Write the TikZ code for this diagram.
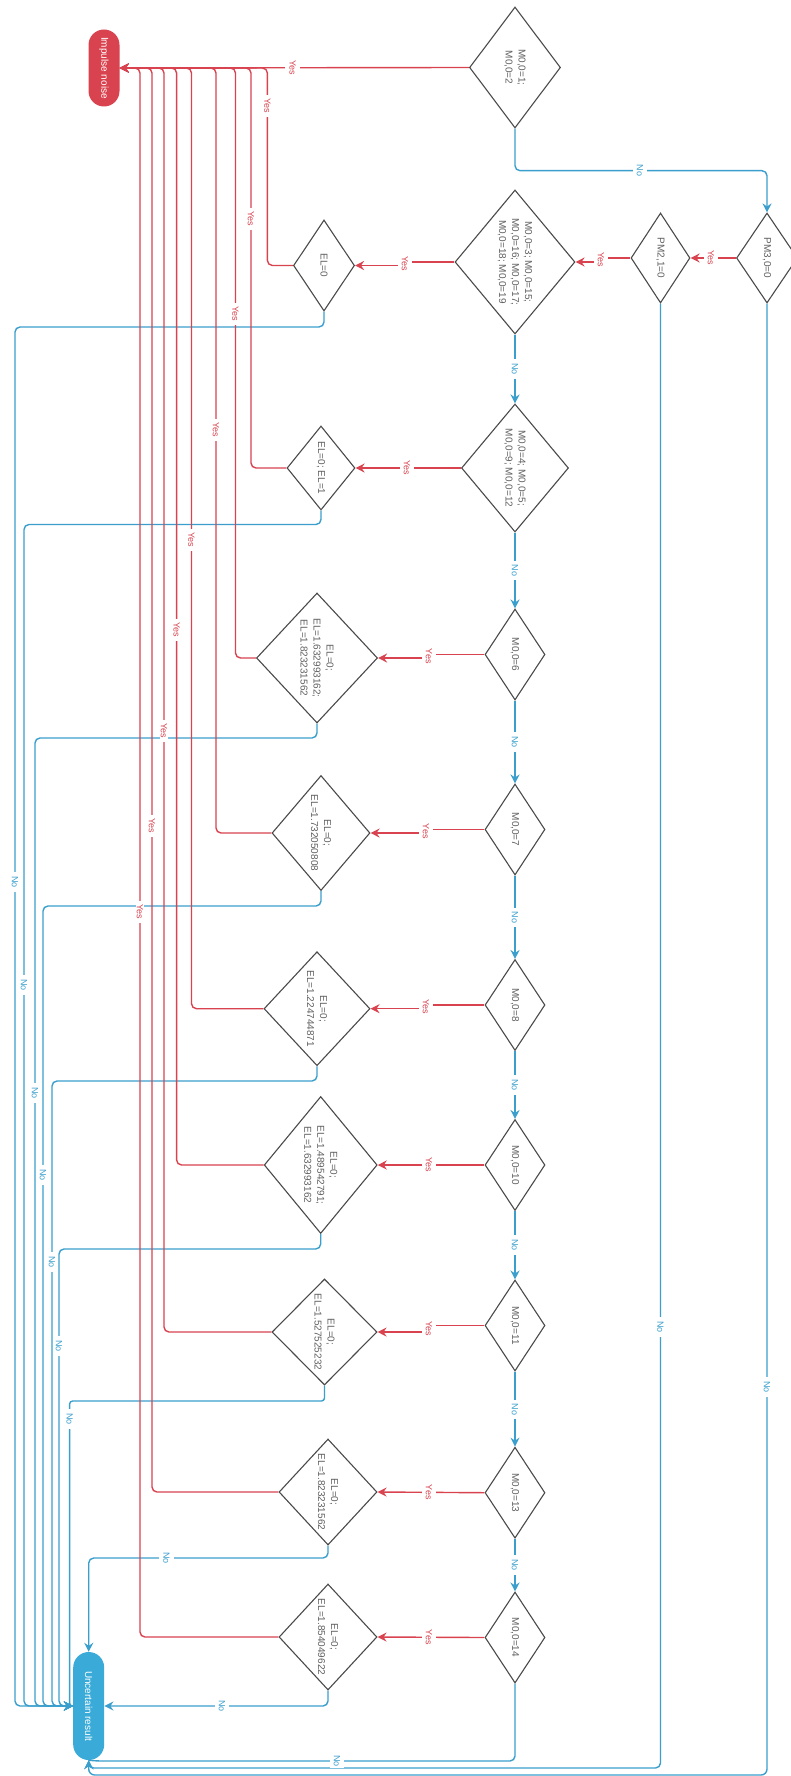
\documentclass[tikz,border=0pt]{standalone}
\usepackage{fontspec}
\setmainfont{Liberation Sans}
\usetikzlibrary{shapes.geometric,arrows.meta}
\definecolor{rd}{HTML}{D8434F}
\definecolor{bl}{HTML}{3A9FCC}
\definecolor{blfill}{HTML}{3AABD8}
\definecolor{edgec}{HTML}{4A4A4A}
\definecolor{txt}{HTML}{606060}
\tikzset{
  dia/.style={diamond, draw=edgec, line width=1.1pt, fill=white, inner sep=0pt},
  dtext/.style={rotate=-90, align=center, text=txt, font=\fontsize{10}{13}\selectfont, inner sep=0pt},
  term/.style={rectangle, rounded corners=15.5pt, minimum width=31pt, inner sep=0pt},
  ptext/.style={rotate=-90, text=white, font=\fontsize{10}{12}\selectfont, inner sep=0pt},
  tip/.style={-{Stealth[length=9pt,width=9pt,inset=3pt]}},
  yesln/.style={draw=rd, line width=1.4pt, tip},
  noln/.style={draw=bl, line width=1.4pt, tip},
  lab/.style={rotate=-90, fill=white, font=\fontsize{9}{10}\selectfont},
  onv/.style={inner xsep=4pt, inner ysep=1pt},
  onh/.style={inner xsep=1pt, inner ysep=4pt},
  ylab/.style={lab, text=rd, onh},
  nlab/.style={lab, text=bl, onh},
  yvlab/.style={lab, text=rd, onv},
  nvlab/.style={lab, text=bl, onv}
}
\begin{document}
\begin{tikzpicture}[x=1pt,y=-1pt]
\useasboundingbox (0,0) rectangle (791,1776);
\fill[white] (0,0) rectangle (791,1776);
\clip (0,0) rectangle (791,1776);

% terminals
\node[term, fill=rd, minimum height=77pt, label={[ptext]center:{Impulse noise}}] (Imp) at (104,68) {};
\node[term, fill=blfill, minimum height=108pt, label={[ptext]center:{Uncertain result}}] (Unc) at (88.7,1706) {};

% main column decisions
\node[dia, minimum width=91pt, minimum height=121pt, label={[dtext]center:{M0,0=1;\\M0,0=2}}] (D1) at (515,67.5) {};
\node[dia, minimum width=61pt, minimum height=90pt, label={[dtext]center:{PM3,0=0}}] (PM3) at (767,258) {};
\node[dia, minimum width=59pt, minimum height=90pt, label={[dtext]center:{PM2,1=0}}] (PM2) at (660.5,258) {};
\node[dia, minimum width=120pt, minimum height=144pt, label={[dtext]center:{M0,0=3; M0,0=15;\\M0,0=16; M0,0=17;\\M0,0=18; M0,0=19}}] (D3) at (515,262) {};
\node[dia, minimum width=107pt, minimum height=128pt, label={[dtext]center:{M0,0=4; M0,0=5;\\M0,0=9; M0,0=12}}] (D4) at (515,468) {};
\node[dia, minimum width=60pt, minimum height=91pt, label={[dtext]center:{M0,0=6}}] (D5) at (515,654.5) {};
\node[dia, minimum width=60pt, minimum height=91pt, label={[dtext]center:{M0,0=7}}] (D6) at (515,829.5) {};
\node[dia, minimum width=60pt, minimum height=91pt, label={[dtext]center:{M0,0=8}}] (D7) at (515,1005) {};
\node[dia, minimum width=60pt, minimum height=91pt, label={[dtext]center:{M0,0=10}}] (D8) at (515,1165) {};
\node[dia, minimum width=60pt, minimum height=91pt, label={[dtext]center:{M0,0=11}}] (D9) at (515,1325.5) {};
\node[dia, minimum width=60pt, minimum height=91pt, label={[dtext]center:{M0,0=13}}] (D10) at (515,1492.7) {};
\node[dia, minimum width=60pt, minimum height=91pt, label={[dtext]center:{M0,0=14}}] (D11) at (515,1637.5) {};

% EL decisions
\node[dia, minimum width=61pt, minimum height=91pt, label={[dtext]center:{EL=0}}] (E1) at (324,265.5) {};
\node[dia, minimum width=68pt, minimum height=84pt, label={[dtext]center:{EL=0; EL=1}}] (E2) at (321,468) {};
\node[dia, minimum width=121pt, minimum height=130pt, label={[dtext]center:{EL=0;\\EL=1.632993162;\\EL=1.823231562}}] (E3) at (317,658) {};
\node[dia, minimum width=98pt, minimum height=115pt, label={[dtext]center:{EL=0;\\EL=1.732050808}}] (E4) at (321,833) {};
\node[dia, minimum width=106pt, minimum height=114pt, label={[dtext]center:{EL=0;\\EL=1.224744871}}] (E5) at (317,1008.7) {};
\node[dia, minimum width=113pt, minimum height=137pt, label={[dtext]center:{EL=0;\\EL=1.489542791;\\EL=1.632993162}}] (E6) at (320.7,1165) {};
\node[dia, minimum width=105pt, minimum height=106pt, label={[dtext]center:{EL=0;\\EL=1.527525232}}] (E7) at (324.5,1332) {};
\node[dia, minimum width=98pt, minimum height=106pt, label={[dtext]center:{EL=0;\\EL=1.823231562}}] (E8) at (328,1492) {};
\node[dia, minimum width=98pt, minimum height=106pt, label={[dtext]center:{EL=0;\\EL=1.854049622}}] (E9) at (328,1637) {};

% ---------- blue "No" connectors ----------
\draw[noln, rounded corners=5pt] (D1.south) -- (515,170.7) -- (767,170.7) -- (PM3.north);
\draw[noln] (D3.south) -- (D4.north);
\draw[noln] (D4.south) -- (D5.north);
\draw[noln] (D5.south) -- (D6.north);
\draw[noln] (D6.south) -- (D7.north);
\draw[noln] (D7.south) -- (D8.north);
\draw[noln] (D8.south) -- (D9.north);
\draw[noln] (D9.south) -- (D10.north);
\draw[noln] (D10.south) -- (D11.north);

\draw[noln, rounded corners=5pt] (E1.south) |- (15,327) -- (15,1706) -- (Unc.west);
\draw[noln, rounded corners=5pt] (E2.south) |- (24,524.5) -- (24,1706) -- (Unc.west);
\draw[noln, rounded corners=5pt] (E3.south) |- (35,738) -- (35,1706) -- (Unc.west);
\draw[noln, rounded corners=5pt] (E4.south) |- (43,906) -- (43,1706) -- (Unc.west);
\draw[noln, rounded corners=5pt] (E5.south) |- (52,1081) -- (52,1706) -- (Unc.west);
\draw[noln, rounded corners=5pt] (E6.south) |- (59,1249) -- (59,1706) -- (Unc.west);
\draw[noln, rounded corners=3pt] (E7.south) |- (69.6,1401) -- (69.6,1706) -- (Unc.west);
\draw[noln, rounded corners=5pt] (E8.south) |- (88.7,1558) -- (Unc.north);
\draw[noln, rounded corners=5pt] (E9.south) |- (Unc.east);

\draw[draw=bl, line width=1.4pt, rounded corners=5pt] (D11.south) |- (97,1761) -- (Unc.south);
\draw[noln, rounded corners=5pt] (PM2.south) |- (88.7,1768) -- (Unc.south);
\draw[noln, rounded corners=6pt] (PM3.south) |- (88.7,1775) -- (Unc.south);

% ---------- red "Yes" connectors ----------
\draw[yesln] (D1.west) -- (Imp.east);
\draw[yesln] (PM3.west) -- (PM2.east);
\draw[yesln] (PM2.west) -- (601,258) -- (601,262) -- (D3.east);
\draw[yesln] (D3.west) -- (405,262) -- (405,265.5) -- (E1.east);
\draw[yesln] (D4.west) -- (E2.east);
\draw[yesln] (D5.west) -- (429,654.5) -- (429,658) -- (E3.east);
\draw[yesln] (D6.west) -- (426,829.5) -- (426,833) -- (E4.east);
\draw[yesln] (D7.west) -- (426,1005) -- (426,1008.7) -- (E5.east);
\draw[yesln] (D8.west) -- (E6.east);
\draw[yesln] (D9.west) -- (429,1325.5) -- (429,1332) -- (E7.east);
\draw[yesln] (D10.west) -- (E8.east);
\draw[yesln] (D11.west) -- (E9.east);

\draw[yesln, rounded corners=5pt] (E1.west) -| (267.4,68) -- (Imp.east);
\draw[yesln, rounded corners=5pt] (E2.west) -| (251,68) -- (Imp.east);
\draw[yesln, rounded corners=5pt] (E3.west) -| (235.5,68) -- (Imp.east);
\draw[yesln, rounded corners=5pt] (E4.west) -| (216,68) -- (Imp.east);
\draw[yesln, rounded corners=5pt] (E5.west) -| (191.5,68) -- (Imp.east);
\draw[yesln, rounded corners=5pt] (E6.west) -| (176.6,68) -- (Imp.east);
\draw[yesln, rounded corners=5pt] (E7.west) -| (164,68) -- (Imp.east);
\draw[yesln, rounded corners=5pt] (E8.west) -| (152,68) -- (Imp.east);
\draw[yesln, rounded corners=5pt] (E9.west) -| (140,68) -- (Imp.east);

% ---------- labels ----------
\node[ylab] (y1) at (292.6,68) {Yes};
\node[ylab] (y2) at (711,258) {Yes};
\node[ylab] (y3) at (601,260) {Yes};
\node[ylab] (y4) at (405,263.7) {Yes};
\node[ylab] (y5) at (407,468) {Yes};
\node[ylab] (y6) at (429,656.3) {Yes};
\node[ylab] (y7) at (426,831.3) {Yes};
\node[ylab] (y8) at (426,1006.9) {Yes};
\node[ylab] (y9) at (429,1165) {Yes};
\node[ylab] (y10) at (429,1328.7) {Yes};
\node[ylab] (y11) at (429,1492.3) {Yes};
\node[ylab] (y12) at (429,1637.3) {Yes};

\node[yvlab] (v1) at (267.4,106) {Yes};
\node[yvlab] (v2) at (251,219) {Yes};
\node[yvlab] (v3) at (235.5,314) {Yes};
\node[yvlab] (v4) at (216,430) {Yes};
\node[yvlab] (v5) at (191.5,540) {Yes};
\node[yvlab] (v6) at (176.6,630) {Yes};
\node[yvlab] (v7) at (164,731) {Yes};
\node[yvlab] (v8) at (152,826) {Yes};
\node[yvlab] (v9) at (140,912) {Yes};

\node[nlab] (n1) at (640,170.7) {No};
\node[nvlab] (n2) at (515,369) {No};
\node[nvlab] (n3) at (515,570.5) {No};
\node[nvlab] (n4) at (515,742) {No};
\node[nvlab] (n5) at (515,917.5) {No};
\node[nvlab] (n6) at (515,1085) {No};
\node[nvlab] (n7) at (515,1245) {No};
\node[nvlab] (n8) at (515,1409.5) {No};
\node[nvlab] (n9) at (515,1565) {No};

\node[nvlab] (m1) at (15,882) {No};
\node[nvlab] (m2) at (24,985) {No};
\node[nvlab] (m3) at (35,1093) {No};
\node[nvlab] (m4) at (43,1175) {No};
\node[nvlab] (m5) at (52,1262) {No};
\node[nvlab] (m6) at (59,1346) {No};
\node[nvlab] (m7) at (69.6,1419) {No};
\node[nlab] (m8) at (166.5,1558) {No};
\node[nlab] (m9) at (222,1706) {No};
\node[nlab] (m10) at (337,1761) {No};
\node[nvlab] (m11) at (660.5,1327) {No};
\node[nvlab] (m12) at (767,1387) {No};
\end{tikzpicture}
\end{document}
